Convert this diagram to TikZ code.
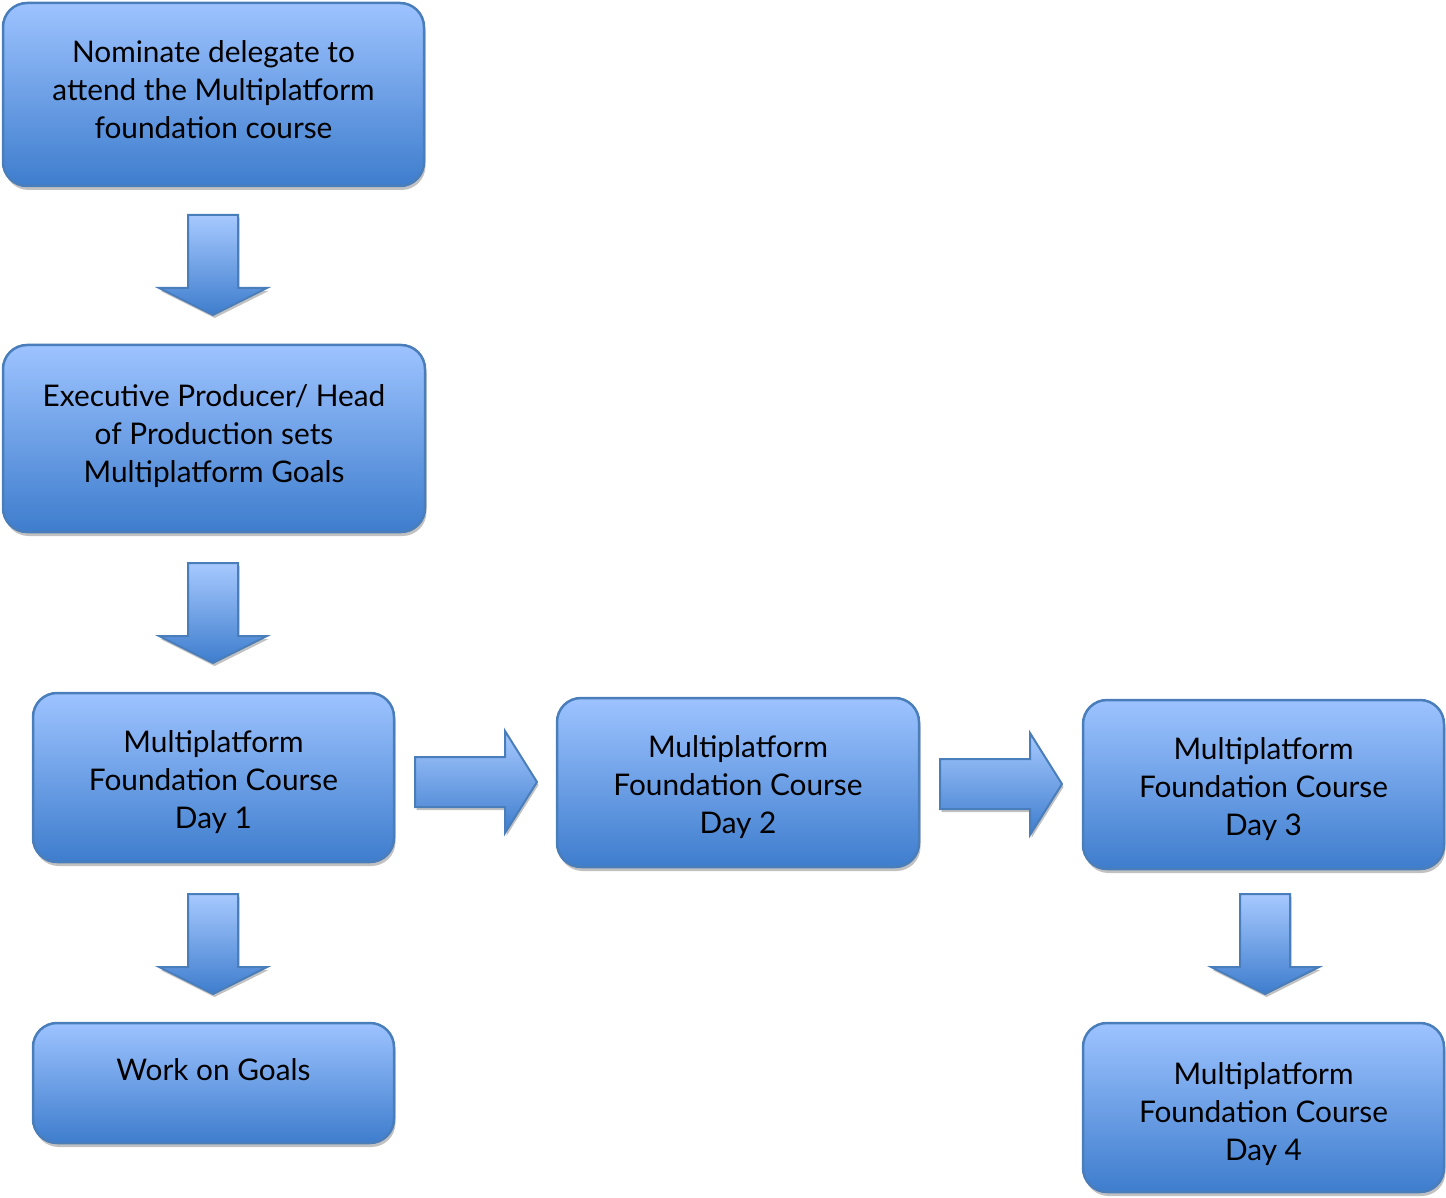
\documentclass[tikz,border=0pt]{standalone}
\usepackage{fontspec}
\setmainfont{Lato}
\usetikzlibrary{shadows}
\definecolor{topc}{HTML}{9DC3FF}
\definecolor{botc}{HTML}{3E7DCD}
\definecolor{edgec}{HTML}{4A7EBB}
\tikzset{
  box/.style={rectangle, rounded corners=24pt, draw=edgec, line width=2.5pt,
    top color=topc, bottom color=botc, inner sep=0pt,
    drop shadow={shadow xshift=1.5pt, shadow yshift=-4pt, fill=black!30, opacity=0.8}},
  boxlabel/.style={align=center, inner sep=0pt, font=\fontsize{29.8}{38}\selectfont},
  blockarrow/.style={draw=edgec, line width=2pt, top color=topc!90!white, bottom color=botc,
    drop shadow={shadow xshift=1.5pt, shadow yshift=-3pt, fill=black!30, opacity=0.8}}
}
\newcommand\dnarrowx[3]{% name, center x, top y
  \path[blockarrow] (#2-25,#3) -- (#2+25,#3) -- (#2+25,#3+73) -- (#2+54,#3+73)
     -- (#2,#3+100) -- (#2-54,#3+73) -- (#2-25,#3+73) -- cycle;
  \coordinate (#1) at (#2,#3+50);}
\newcommand\rtarrowx[3]{% name, left x, center y
  \path[blockarrow] (#2,#3-25) -- (#2+90,#3-25) -- (#2+90,#3-51) -- (#2+122,#3)
     -- (#2+90,#3+51) -- (#2+90,#3+25) -- (#2,#3+25) -- cycle;
  \coordinate (#1) at (#2+60,#3);}
\begin{document}
\begin{tikzpicture}[x=1pt,y=-1pt]
\useasboundingbox (0,0) rectangle (1446,1198);
\node[box, minimum width=421pt, minimum height=183pt,
  label={[boxlabel, yshift=4.5pt]center:Nominate delegate to\\attend the Multiplatform\\foundation course}]
  (n1) at (213.5,94.5) {};
\node[box, minimum width=422pt, minimum height=187pt,
  label={[boxlabel, yshift=2.5pt]center:Executive Producer/ Head\\of Production sets\\Multiplatform Goals}]
  (n2) at (214,438.5) {};
\node[box, minimum width=361pt, minimum height=169pt,
  label={[boxlabel, yshift=-5pt]center:Multiplatform\\Foundation Course\\Day 1}]
  (d1) at (213.5,777.5) {};
\node[box, minimum width=362pt, minimum height=169pt,
  label={[boxlabel, yshift=-5pt]center:Multiplatform\\Foundation Course\\Day 2}]
  (d2) at (738,782.5) {};
\node[box, minimum width=361pt, minimum height=169pt,
  label={[boxlabel, yshift=-5pt]center:Multiplatform\\Foundation Course\\Day 3}]
  (d3) at (1263.5,784.5) {};
\node[box, minimum width=361pt, minimum height=120pt,
  label={[boxlabel, yshift=13pt]center:Work on Goals}]
  (wg) at (213.5,1083) {};
\node[box, minimum width=361pt, minimum height=169pt,
  label={[boxlabel, yshift=-7pt]center:Multiplatform\\Foundation Course\\Day 4}]
  (d4) at (1263.5,1107.5) {};
\dnarrowx{a1}{213}{215}
\dnarrowx{a2}{213}{563}
\dnarrowx{a3}{213}{894}
\dnarrowx{a4}{1265}{894}
\rtarrowx{a5}{415}{782}
\rtarrowx{a6}{940}{784}
\end{tikzpicture}
\end{document}
